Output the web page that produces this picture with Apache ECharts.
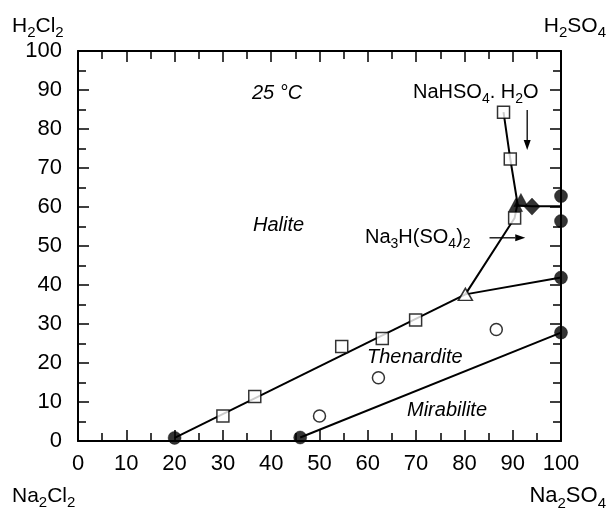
<!DOCTYPE html>
<html>
<head>
<meta charset="utf-8">
<script src="https://cdn.jsdelivr.net/npm/echarts@6/dist/echarts.min.js"></script>
<style>
  html, body { margin: 0; padding: 0; background: #fff; }
  #chart { width: 608px; height: 511px; }
</style>
</head>
<body>
<div id="chart"></div>
<script>
// Na2Cl2 – Na2SO4 – H2Cl2 – H2SO4 reciprocal system, isotherm at 25 °C

const xTickLabels = [0, 10, 20, 30, 40, 50, 60, 70, 80, 90, 100];
const yTickLabels = [0, 10, 20, 30, 40, 50, 60, 70, 80, 90, 100];

// Boundary curves (x = % Na2SO4 side, y = % H2 side)
const haliteThenardite = [[20, 0.8], [80.2, 37.6]];
const thenarditeAcid = [[80.2, 37.6], [100, 41.9]];
const na3hBoundary = [[80.2, 37.6], [90.4, 57.2], [91.0, 60.9]];
const nahso4Boundary = [[88.1, 84.3], [89.5, 72.3], [91.0, 60.9]];
const acidBoundary = [[91.0, 60.4], [94.0, 60.2], [100, 60.2]];
const mirabiliteThenardite = [[46, 0.9], [100, 27.8]];

// Measured points
const solidCircles = [[20, 0.8], [46, 0.9], [100, 27.8], [100, 41.9], [100, 56.4], [100, 62.8]];
const openSquares = [[30, 6.4], [36.6, 11.4], [54.6, 24.2], [63, 26.3], [69.9, 31.0], [90.4, 57.2], [89.5, 72.3], [88.1, 84.3]];
const openCircles = [[50, 6.4], [62.2, 16.2], [86.6, 28.6]];
const openTriangles = [[80.2, 37.6]];
const solidTriangles = [[90.6, 60.5], [91.7, 61.8]];
const solidDiamonds = [[94.0, 60.1]];

// Arrow annotations in data coordinates [from, to]
const arrowNaHSO4 = [[93, 84.9], [93, 74.6]];
const arrowNa3H = [[85.2, 52.1], [92.6, 52.1]];

const FONT = '"Liberation Sans", Arial, Helvetica, sans-serif';
const INK = '#000';

const chart = echarts.init(document.getElementById('chart'), null, { renderer: 'canvas' });

function curve(data) {
  return {
    type: 'line', data: data, symbol: 'none', silent: true, z: 2,
    lineStyle: { color: INK, width: 2 }, animation: false
  };
}
function markers(data, symbol, size, filled) {
  return {
    type: 'scatter', data: data, symbol: symbol, symbolSize: size, clip: false, silent: true, z: 5,
    itemStyle: filled ? { color: INK, borderColor: INK, borderWidth: 0.5 }
                      : { color: '#fff', borderColor: INK, borderWidth: 1.5 },
    animation: false
  };
}

function axisCommon(showLabel, labels, margin) {
  return {
    type: 'value', min: 0, max: 100, interval: 10,
    axisLine: { show: true, onZero: false, lineStyle: { color: INK, width: 2 } },
    axisTick: { show: true, inside: true, length: 11, lineStyle: { color: INK, width: 1.5 } },
    minorTick: { show: true, splitNumber: 2, length: 8, lineStyle: { color: INK, width: 1.5 } },
    splitLine: { show: false },
    minorSplitLine: { show: false },
    axisLabel: showLabel
      ? { show: true, color: INK, fontFamily: FONT, fontSize: 22, margin: margin,
          formatter: function (v) { return labels.indexOf(v) >= 0 ? String(v) : ''; } }
      : { show: false }
  };
}

const option = {
  backgroundColor: '#fff',
  animation: false,
  grid: { left: 78, right: 47, top: 51, bottom: 70, containLabel: false },
  xAxis: [
    Object.assign(axisCommon(true, xTickLabels, 12), { position: 'bottom' }),
    Object.assign(axisCommon(false), { position: 'top' })
  ],
  yAxis: [
    Object.assign(axisCommon(true, yTickLabels, 16), { position: 'left' }),
    Object.assign(axisCommon(false), { position: 'right' })
  ],
  series: [
    curve(haliteThenardite),
    curve(thenarditeAcid),
    curve(na3hBoundary),
    curve(nahso4Boundary),
    curve(acidBoundary),
    curve(mirabiliteThenardite),
    markers(openSquares, 'rect', 12, false),
    markers(openCircles, 'circle', 12, false),
    markers(openTriangles, 'triangle', [14, 12], false),
    markers(solidTriangles, 'triangle', [14, 13], true),
    markers(solidDiamonds, 'diamond', [16, 17], true),
    markers(solidCircles, 'circle', 13, true)
  ]
};
chart.setOption(option);

// Chemical formulas: pieces of normal text and lowered subscripts, laid out side by side
const measureCtx = document.createElement('canvas').getContext('2d');
function textWidth(str, size) {
  measureCtx.font = size + 'px ' + FONT;
  return measureCtx.measureText(str).width;
}
// parts: list of [text, isSubscript]; (x, cy) = anchor and vertical centre of the main text
function formula(parts, x, cy, size, align) {
  const subSize = Math.round(size * 0.7);
  const widths = parts.map(function (p) { return textWidth(p[0], p[1] ? subSize : size); });
  const total = widths.reduce(function (a, b) { return a + b; }, 0);
  let cx = align === 'right' ? x - total : x;
  const els = [];
  parts.forEach(function (p, i) {
    els.push({
      type: 'text', x: cx, y: p[1] ? cy + size * 0.34 : cy, silent: true, z: 10,
      style: { text: p[0], fontFamily: FONT, fontSize: p[1] ? subSize : size, fill: INK,
               align: 'left', verticalAlign: 'middle' }
    });
    cx += widths[i];
  });
  return els;
}
function italicText(text, x, y, size) {
  return {
    type: 'text', x: x, y: y, silent: true, z: 10,
    style: { text: text, fontFamily: FONT, fontStyle: 'italic', fontSize: size, fill: INK,
             align: 'left', verticalAlign: 'middle' }
  };
}
function arrow(pair) {
  const p1 = chart.convertToPixel({ xAxisIndex: 0, yAxisIndex: 0 }, pair[0]);
  const p2 = chart.convertToPixel({ xAxisIndex: 0, yAxisIndex: 0 }, pair[1]);
  const dx = p2[0] - p1[0], dy = p2[1] - p1[1];
  const len = Math.sqrt(dx * dx + dy * dy);
  const ux = dx / len, uy = dy / len;
  const headLen = 10, headW = 3.5;
  const bx = p2[0] - ux * headLen, by = p2[1] - uy * headLen;
  return [
    { type: 'line', silent: true, z: 10,
      shape: { x1: p1[0], y1: p1[1], x2: bx, y2: by },
      style: { stroke: INK, lineWidth: 1.3 } },
    { type: 'polygon', silent: true, z: 10,
      shape: { points: [[p2[0], p2[1]], [bx - uy * headW, by + ux * headW], [bx + uy * headW, by - ux * headW]] },
      style: { fill: INK } }
  ];
}

const graphics = [].concat(
  formula([['H', 0], ['2', 1], ['Cl', 0], ['2', 1]], 12, 26, 21),
  formula([['H', 0], ['2', 1], ['SO', 0], ['4', 1]], 606, 26, 21, 'right'),
  formula([['Na', 0], ['2', 1], ['Cl', 0], ['2', 1]], 12, 496, 21),
  formula([['Na', 0], ['2', 1], ['SO', 0], ['4', 1]], 606, 496, 22, 'right'),
  formula([['NaHSO', 0], ['4', 1], ['. H', 0], ['2', 1], ['O', 0]], 413, 92, 20),
  formula([['Na', 0], ['3', 1], ['H(SO', 0], ['4', 1], [')', 0], ['2', 1]], 365, 237, 20),
  [
    italicText('25 °C', 252, 93, 20),
    italicText('Halite', 253, 225, 20),
    italicText('Thenardite', 367, 357, 20),
    italicText('Mirabilite', 407, 410, 20)
  ],
  arrow(arrowNaHSO4),
  arrow(arrowNa3H)
);

chart.setOption({ graphic: { elements: graphics } });
</script>
</body>
</html>
